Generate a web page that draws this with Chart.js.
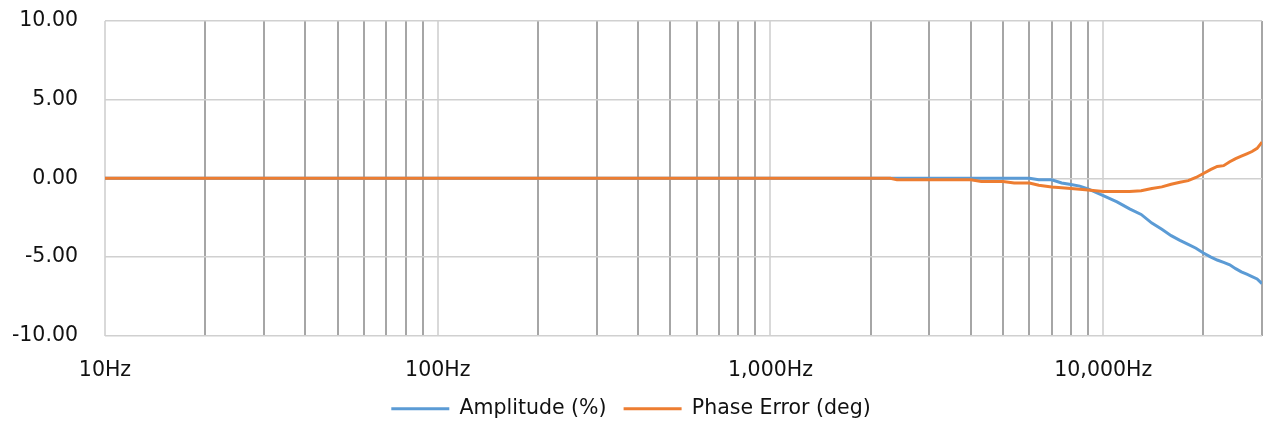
<!DOCTYPE html>
<html>
<head>
<meta charset="utf-8">
<script src="https://cdn.jsdelivr.net/npm/chart.js@4"></script>
<style>
  html, body { margin: 0; padding: 0; background: #fff; }
  #wrap { width: 1266px; height: 432px; }
</style>
</head>
<body>
<div id="wrap"><canvas id="chart"></canvas></div>
<script>
// frequency points (Hz)
var freqs = [10, 20, 50, 100, 200, 500, 1000, 2000, 2290, 2400, 3000, 4000, 4300, 5000, 5400, 6000, 6400, 7000, 7500, 8000, 8500, 9000, 10000, 11000, 12000, 13000, 14000, 15000, 16000, 17000, 18000, 19000, 20000, 21000, 22000, 23000, 24000, 25000, 26000, 27000, 28000, 29000, 30000];
var amplitude = [0, 0, 0, 0, 0, 0, 0, 0, 0, 0, 0, 0, 0, 0, 0, 0, -0.1, -0.1, -0.3, -0.4, -0.5, -0.68, -1.1, -1.5, -1.95, -2.3, -2.85, -3.25, -3.65, -3.95, -4.2, -4.45, -4.75, -5.0, -5.2, -5.35, -5.5, -5.75, -5.95, -6.1, -6.25, -6.4, -6.7];
var phase = [0, 0, 0, 0, 0, 0, 0, 0, 0, -0.1, -0.1, -0.1, -0.2, -0.2, -0.3, -0.3, -0.45, -0.55, -0.6, -0.65, -0.7, -0.75, -0.85, -0.85, -0.85, -0.8, -0.65, -0.55, -0.38, -0.25, -0.15, 0.05, 0.3, 0.55, 0.75, 0.8, 1.05, 1.25, 1.4, 1.55, 1.7, 1.9, 2.3];
var seriesNames = ['Amplitude (%)', 'Phase Error (deg)'];
var yTicks = [-10, -5, 0, 5, 10];
var xLabelTicks = [10, 100, 1000, 10000];

function pts(vals) {
  return freqs.map(function (f, i) { return { x: f, y: vals[i] }; });
}
function isDecade(v) {
  return xLabelTicks.indexOf(v) >= 0;
}

var font = { family: 'DejaVu Sans', size: 20.5 };

var chart = new Chart(document.getElementById('chart'), {
  type: 'line',
  data: {
    datasets: [{
      label: seriesNames[0],
      data: pts(amplitude),
      borderColor: '#5b9bd5',
      backgroundColor: '#5b9bd5',
      borderWidth: 3,
      pointRadius: 0,
      pointStyle: 'line',
      tension: 0,
      order: 2
    }, {
      label: seriesNames[1],
      data: pts(phase),
      borderColor: '#ed7d31',
      backgroundColor: '#ed7d31',
      borderWidth: 3,
      pointRadius: 0,
      pointStyle: 'line',
      tension: 0,
      order: 1
    }]
  },
  options: {
    responsive: true,
    maintainAspectRatio: false,
    animation: false,
    layout: { padding: { top: 21, right: 4, left: 0, bottom: 3 } },
    plugins: {
      tooltip: { enabled: false },
      legend: {
        position: 'bottom',
        labels: {
          font: font,
          color: '#111',
          usePointStyle: true,
          pointStyleWidth: 58,
          padding: 17,
          sort: function (a, b) { return a.datasetIndex - b.datasetIndex; }
        }
      }
    },
    scales: {
      x: {
        type: 'logarithmic',
        min: 10,
        max: 30000,
        afterBuildTicks: function (scale) {
          var t = [];
          for (var d = 10; d <= 10000; d *= 10) {
            for (var k = 1; k <= 9; k++) {
              var v = d * k;
              if (v <= 30000) t.push({ value: v });
            }
          }
          scale.ticks = t;
        },
        afterFit: function (scale) {
          scale.height = 46;
          scale.paddingLeft = 0;
          scale.paddingRight = 0;
        },
        border: { display: false },
        grid: {
          drawTicks: false,
          lineWidth: 2,
          color: function (c) {
            return c.tick && isDecade(c.tick.value) ? '#d9d9d9' : '#a6a6a6';
          }
        },
        ticks: {
          autoSkip: false,
          maxRotation: 0,
          padding: 23,
          font: font,
          color: '#111',
          callback: function (v) {
            return isDecade(v) ? v.toLocaleString('en-US') + 'Hz' : '';
          }
        }
      },
      y: {
        min: -10,
        max: 10,
        afterBuildTicks: function (scale) {
          scale.ticks = yTicks.map(function (v) { return { value: v }; });
        },
        afterFit: function (scale) {
          scale.width = 105;
          scale.paddingTop = 0;
          scale.paddingBottom = 0;
        },
        border: { display: false },
        grid: { drawTicks: false, color: '#d0d0d0', lineWidth: 1.5 },
        ticks: {
          padding: 27,
          font: font,
          color: '#111',
          callback: function (v) { return v.toFixed(2); }
        }
      }
    }
  }
});
</script>
</body>
</html>
